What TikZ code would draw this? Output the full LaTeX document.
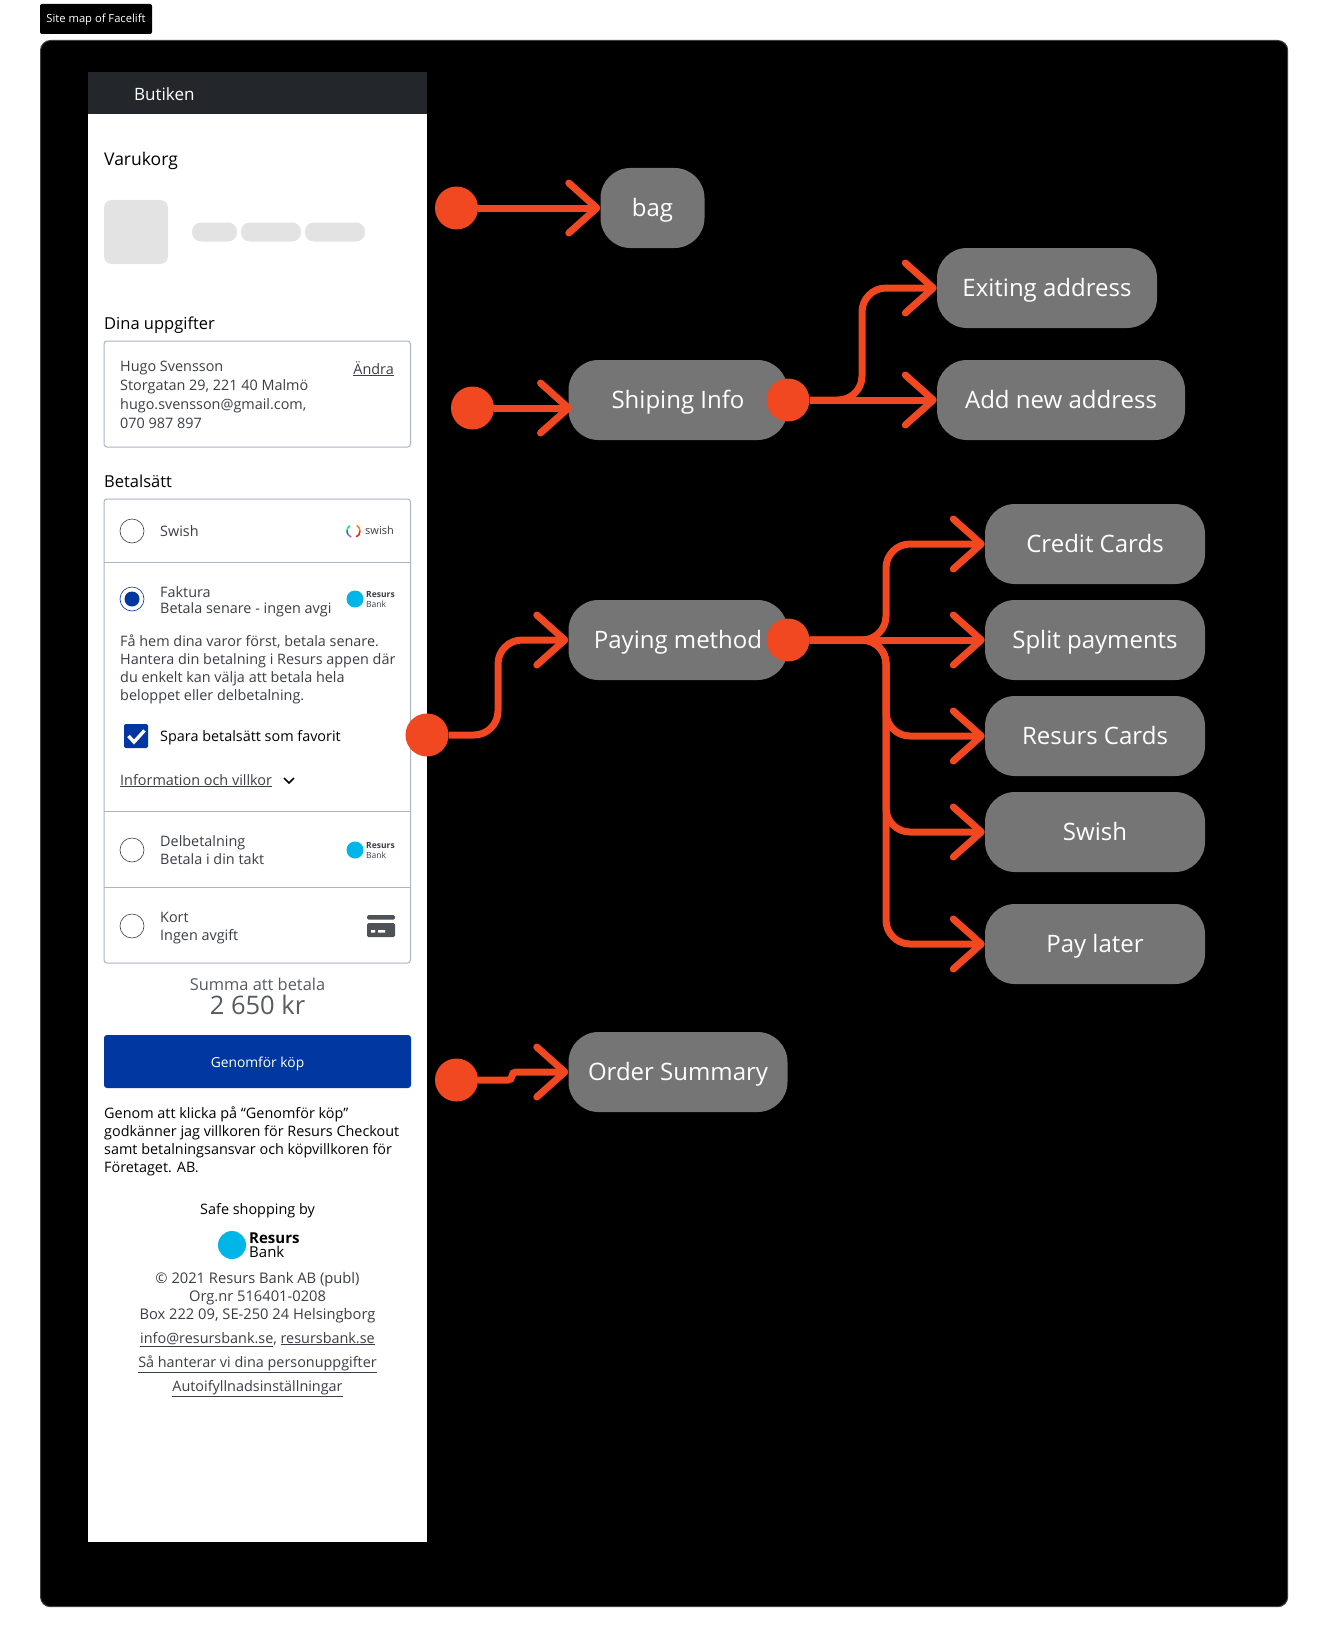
\documentclass[tikz,border=0pt]{standalone}
\usepackage{fontspec}
\setmainfont{Open Sans}
\usepackage{tikz}
\usepackage{xcolor}
\usetikzlibrary{arrows.meta,positioning,calc}
\definecolor{signal}{HTML}{F24822}
\definecolor{pillgray}{HTML}{757575}
\definecolor{barblack}{HTML}{23262B}
\definecolor{rulegray}{HTML}{A9B4C4}
\definecolor{skel}{HTML}{E3E3E3}
\definecolor{bankblue}{HTML}{0037A0}
\definecolor{resursblue}{HTML}{00B5E8}
\definecolor{inkgray}{HTML}{3A3F45}
\newcommand{\fsz}[1]{\fontsize{#1}{#1}\selectfont}
\newcommand{\fszl}[2]{\fontsize{#1}{#2}\selectfont}

\begin{document}
\begin{tikzpicture}[
    x=1pt,y=-1pt,
    >={Straight Barb[length=28pt,width=50pt,line width=7pt,round]},
    link/.style={draw=signal,line width=7pt,->,rounded corners=24pt},
    pill/.style={rectangle,rounded corners=30pt,fill=pillgray,text=white,minimum height=80pt,inner sep=0pt,font=\fsz{24},text height=22pt,text depth=4.6pt},
    hotspot/.style={circle,fill=signal,minimum size=43pt,inner sep=0pt},
    lab/.style={anchor=west,inner sep=0pt,text=inkgray,font=\fsz{14.4},align=left},
    oneline/.style={lab,text height=13pt,text depth=3pt},
    head/.style={anchor=west,inner sep=0pt,text=black,font=\fsz{16.5},text height=16pt,text depth=3pt},
    mid/.style={inner sep=0pt,text=inkgray,font=\fsz{14.4},align=center},
    midline/.style={mid,text height=13pt,text depth=3pt},
    radio/.style={circle,draw=inkgray,fill=white,line width=0.6pt,minimum size=24pt,inner sep=0pt},
    skelbox/.style={rectangle,fill=skel,inner sep=0pt},
    panelbox/.style={rectangle,draw=rulegray,line width=1pt,rounded corners=3pt,fill=white,inner sep=0pt},
    logodot/.style={circle,fill=resursblue,minimum size=17pt,inner sep=0pt},
    logotext/.style={anchor=west,inner sep=0pt,text=inkgray,align=left,font=\fszl{8.5}{9.5}},
    sep/.style={draw=rulegray,line width=1pt}]
  \useasboundingbox (0,0) rectangle (1328,1648);
  \fill[white] (0,0) rectangle (1328,1648);
  % ---- frame and title tag ----
  \node[rectangle,fill=black,rounded corners=2pt,minimum width=112pt,minimum height=30pt,inner sep=0pt,text=white,font=\fsz{11.2},text height=10pt,text depth=3pt] (tag) at (96,19) {Site map of Facelift};
  \draw[fill=black,draw=black!75,line width=1pt,rounded corners=10pt] (40.5,40.5) rectangle (1287.7,1606.7);
  % ---- left: checkout page ----
  \fill[white] (88,114) rectangle (427,1542);
  \fill[barblack] (88,72) rectangle (427,114);
  \node[head,text=white,font=\fsz{17}] (shop) at (134,94) {Butiken};
  \node[head,font=\fsz{17.5}] (cart) at (104,159) {Varukorg};
  \node[skelbox,rounded corners=8pt,minimum size=64pt] (thumb) at (136,232) {};
  \node[skelbox,rounded corners=9pt,minimum width=45pt,minimum height=19pt] (bar1) at (214.5,232) {};
  \node[skelbox,rounded corners=9pt,minimum width=60pt,minimum height=19pt] (bar2) at (271,232) {};
  \node[skelbox,rounded corners=9pt,minimum width=60pt,minimum height=19pt] (bar3) at (335,232) {};

  \node[head] (you) at (104,323) {Dina uppgifter};
  \draw[panelbox] (104,341) rectangle (410.5,447);
  \node[lab,font=\fszl{14.4}{19}] (addr) at (120,394.5) {Hugo Svensson\\Storgatan 29, 221 40 Malmö\\hugo.svensson@gmail.com,\\070 987 897};
  \node[oneline,anchor=east] (edit) at (394,369) {\underline{Ändra}};

  \node[head] (pay) at (104,481) {Betalsätt};
  \draw[panelbox] (104,499) rectangle (410.5,963);
  \draw[sep] (104,562) -- (410.5,562);
  \draw[sep] (104,811) -- (410.5,811);
  \draw[sep] (104,887) -- (410.5,887);

  \node[radio] (r1) at (132,531) {};
  \node[oneline] (t1) at (160,531) {Swish};
  % swish ring
  \draw[line width=1.5pt,green!70!cyan] (353.5,531) ++(-125:6.5) arc (-125:-170:6.5);
  \draw[line width=1.5pt,cyan!60!blue] (353.5,531) ++(-170:6.5) arc (-170:-215:6.5);
  \draw[line width=1.5pt,violet!60!white] (353.5,531) ++(-215:6.5) arc (-215:-250:6.5);
  \draw[line width=1.5pt,orange] (353.5,531) ++(-60:6.5) arc (-60:0:6.5);
  \draw[line width=1.5pt,red!80!orange] (353.5,531) ++(0:6.5) arc (0:65:6.5);
  \node[logotext,font=\fsz{11},text=inkgray] (swishlogo) at (365,530) {swish};

  \node[radio,draw=bankblue] (r2) at (132,599) {};
  \node[circle,fill=bankblue,minimum size=15pt,inner sep=0pt] (r2dot) at (132,599) {};
  \node[oneline] (t2) at (160,592) {Faktura};
  \begin{scope}
    \clip (158,598) rectangle (330.5,620);
    \node[oneline] (t2b) at (160,608) {Betala senare - ingen avgift};
  \end{scope}
  \node[logodot] (logo1) at (355,599) {};
  \node[logotext] (logo1t) at (366,599.5) {\textbf{Resurs}\\Bank};
  \node[lab,font=\fszl{14.4}{18}] (terms) at (120,669.5) {Få hem dina varor först, betala senare.\\Hantera din betalning i Resurs appen där\\du enkelt kan välja att betala hela\\beloppet eller delbetalning.};
  \node[rectangle,fill=bankblue,rounded corners=2pt,minimum size=24pt,inner sep=0pt] (check) at (136,736) {};
  \draw[white,line width=3.4pt] (128.5,736) -- (134,742) -- (144.5,730.5);
  \node[oneline,text=black] (save) at (160,736) {Spara betalsätt som favorit};
  \node[oneline] (info) at (120,780) {\underline{Information och villkor}};
  \draw[black,line width=1.6pt] (284,778) -- (289,783) -- (294,778);

  \node[radio] (r3) at (132,850) {};
  \node[oneline] (t3) at (160,841) {Delbetalning};
  \node[oneline] (t3b) at (160,859) {Betala i din takt};
  \node[logodot] (logo2) at (355,850) {};
  \node[logotext] (logo2t) at (366,850.5) {\textbf{Resurs}\\Bank};

  \node[radio] (r4) at (132,926) {};
  \node[oneline] (t4) at (160,917) {Kort};
  \node[oneline] (t4b) at (160,935) {Ingen avgift};
  \fill[inkgray!90,rounded corners=1.5pt] (367,915) rectangle (395,919.5);
  \fill[inkgray!90,rounded corners=1.5pt] (367,923) rectangle (395,937);
  \fill[white] (371,930) rectangle (375,932.5) (378,930) rectangle (385,932.5);

  \node[mid,text=inkgray!85,font=\fsz{16.4},text height=16pt,text depth=3pt] (sumlab) at (257.5,984) {Summa att betala};
  \node[mid,text=inkgray!85,font=\fsz{25.5},text height=21pt,text depth=3pt] (sum) at (257.5,1005) {2 650 kr};
  \node[rectangle,fill=bankblue,rounded corners=3pt,minimum width=307pt,minimum height=53pt,inner sep=0pt,text=white,font=\fsz{13.8},text height=15pt,text depth=3pt] (buy) at (257.5,1061.5) {Genomför köp};
  \node[lab,text=black,font=\fszl{14.4}{18}] (legal) at (104,1141) {Genom att klicka på “Genomför köp”\\godkänner jag villkoren för Resurs Checkout\\samt betalningsansvar och köpvillkoren för\\Företaget. AB.};

  \node[midline,text=black] (safe) at (257.5,1209) {Safe shopping by};
  \node[circle,fill=resursblue,minimum size=28pt,inner sep=0pt] (logo3) at (232,1245) {};
  \node[logotext,text=black,font=\fszl{15}{14}] (logo3t) at (249,1245) {\textbf{Resurs}\\Bank};
  \node[mid,font=\fszl{14.7}{18}] (legal2) at (257.5,1298) {© 2021 Resurs Bank AB (publ)\\Org.nr 516401-0208\\Box 222 09, SE-250 24 Helsingborg};
  \node[midline] (mail) at (257.5,1338) {\underline{info@resursbank.se}, \underline{resursbank.se}};
  \node[midline] (priv) at (257.5,1362) {\underline{Så hanterar vi dina personuppgifter}};
  \node[midline] (auto) at (257.5,1386) {\underline{Autoifyllnadsinställningar}};

  % ---- right: site map ----
  \node[pill,minimum width=104pt] (bag) at (652.5,208) {bag};
  \node[pill,minimum width=219pt] (ship) at (678,400) {Shiping Info};
  \node[pill,minimum width=220pt] (exist) at (1047,288) {Exiting address};
  \node[pill,minimum width=248pt] (addnew) at (1061,400) {Add new address};
  \node[pill,minimum width=219pt] (paying) at (678,640) {Paying method};
  \node[pill,minimum width=220pt] (credit) at (1095,544) {Credit Cards};
  \node[pill,minimum width=220pt] (split) at (1095,640) {Split payments};
  \node[pill,minimum width=220pt] (rcards) at (1095,736) {Resurs Cards};
  \node[pill,minimum width=220pt] (swishn) at (1095,832) {Swish};
  \node[pill,minimum width=220pt] (later) at (1095,944) {Pay later};
  \node[pill,minimum width=219pt] (order) at (678,1072) {Order Summary};

  % hot spots on the page and on the pills
  \node[hotspot] (bagin) at (456.5,208) {};
  \node[hotspot] (shipin) at (472.5,408) {};
  \node[hotspot] (shipout) at (788,400) {};
  \node[hotspot] (payin) at (427,735) {};
  \node[hotspot] (payout) at (788,640) {};
  \node[hotspot] (orderin) at (456.5,1080) {};
  \coordinate (shipbus) at (862,400);
  \coordinate (shiptip) at (572,408);
  \coordinate (paybus) at (886,640);
  \coordinate (payturn) at (498,640);
  \coordinate (orderturn) at (512,1072);

  \draw[link] (bagin) -- (bag.west);
  \draw[link] (shipin) -- (shiptip);
  \draw[link] (shipout) -- (addnew.west);
  \draw[link] (shipout) -| (shipbus |- exist.west) -- (exist.west);
  \draw[link] (payin) -| (payturn) -- (paying.west);
  \draw[link] (payout) -- (split.west);
  \draw[link] (payout) -| (paybus |- credit.west) -- (credit.west);
  \draw[link] (payout) -| (paybus |- rcards.west) -- (rcards.west);
  \draw[link] (payout) -| (paybus |- swishn.west) -- (swishn.west);
  \draw[link] (payout) -| (paybus |- later.west) -- (later.west);
  \draw[link,rounded corners=3.9pt] (orderin) -| (orderturn) -- (order.west);
\end{tikzpicture}
\end{document}
